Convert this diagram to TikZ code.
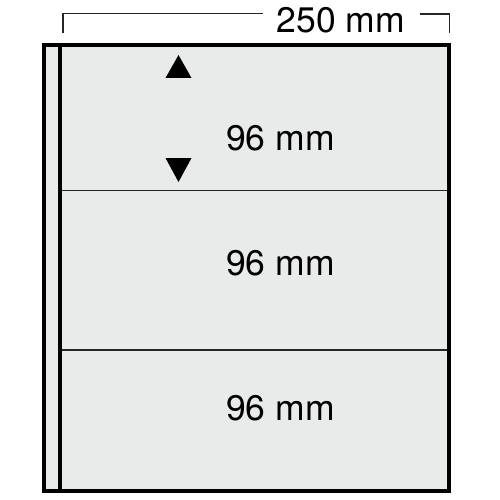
\documentclass[tikz,border=0pt]{standalone}
\usepackage{fontspec}
\setmainfont{TeX Gyre Heros}
\definecolor{sheet}{HTML}{E9EAEA}
\tikzset{
  label/.style={font=\fontsize{35.5}{40}\selectfont, anchor=base, inner sep=0pt, text=black},
  frame/.style={line width=4pt, draw=black},
  divider/.style={line width=1.5pt, draw=black!85},
  bracket/.style={line width=1.6pt, draw=black!85},
  tri/.style={fill=black}
}
\begin{document}
\begin{tikzpicture}[x=1pt,y=-1pt]
\useasboundingbox (0,0) rectangle (500,500);
% sheet
\fill[sheet] (44,45) rectangle (449,491);
\draw[frame] (44,45) rectangle (449,491);
\draw[line width=3.5pt] (60,45) -- (60,491);
\draw[divider] (61.5,190.5) -- (447,190.5);
\draw[divider] (61.5,350) -- (447,350);
% dimension bracket
\coordinate (bl) at (63,33);
\coordinate (blt) at (63,13.5);
\coordinate (bm) at (263,13.5);
\coordinate (br1) at (420,14);
\coordinate (brt) at (449.5,14);
\coordinate (br) at (449.5,33);
\draw[bracket] (bl) -- (blt) -- (bm);
\draw[bracket] (br1) -- (brt) -- (br);
\node[label] (w) at (341,33) {250 mm};
% triangles
\fill[tri] (178.5,55) -- (191.5,78) -- (165.5,78) -- cycle;
\fill[tri] (178.5,182) -- (191.5,158) -- (165.5,158) -- cycle;
% labels
\node[label] (h1) at (280.5,150.5) {96 mm};
\node[label] (h2) at (280.5,275) {96 mm};
\node[label] (h3) at (280.5,420) {96 mm};
\end{tikzpicture}
\end{document}
